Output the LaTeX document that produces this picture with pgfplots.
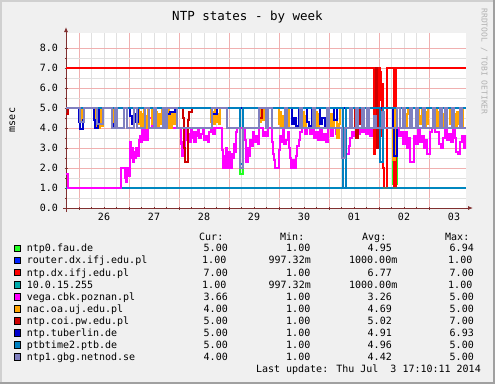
\documentclass[border=0pt]{standalone}
\usepackage{fontspec}
\setmainfont{DejaVu Sans Mono}
\usepackage{pgfplots}
\pgfplotsset{compat=1.18}
\usetikzlibrary{arrows.meta}
\definecolor{bgc}{HTML}{F0F0F0}
\definecolor{edgelt}{HTML}{D0D0D0}
\definecolor{edgedk}{HTML}{A0A0A0}
\definecolor{ming}{HTML}{E0E0E0}
\definecolor{majg}{HTML}{F0B0B0}
\definecolor{axc}{HTML}{803030}
\definecolor{cA}{HTML}{22FF22}
\definecolor{cB}{HTML}{0022FF}
\definecolor{cC}{HTML}{FF0000}
\definecolor{cD}{HTML}{00AAAA}
\definecolor{cE}{HTML}{FF00FF}
\definecolor{cF}{HTML}{FFA500}
\definecolor{cG}{HTML}{CC0000}
\definecolor{cH}{HTML}{0000CC}
\definecolor{cI}{HTML}{0080C0}
\definecolor{cJ}{HTML}{8080C0}
\begin{document}
\begin{tikzpicture}
\begin{scope}[x=1pt,y=-1pt]
\path[use as bounding box] (0,0) rectangle (495,384);
\fill[bgc] (0,0) rectangle (495,384);
\fill[edgelt] (0,0) rectangle (495,1.5);
\fill[edgelt] (0,0) rectangle (1.5,384);
\fill[edgedk] (492.5,0) rectangle (495,384);
\fill[edgedk] (0,381.5) rectangle (495,384);
\end{scope}
\begin{axis}[
  at={(66pt,-208pt)}, anchor=south west,
  scale only axis, width=400pt, height=175pt,
  xmin=-0.26, xmax=7.74, ymin=0, ymax=8.75,
  axis background/.style={fill=white},
  axis x line=bottom, axis y line=left,
  x axis line style={draw=axc, line width=0.8pt, -{Latex[length=5pt,width=4pt]}, shorten >=-7pt, shorten <=-3pt},
  y axis line style={draw=axc, line width=0.8pt, -{Latex[length=5pt,width=4pt]}, shorten >=-6pt, shorten <=-4pt},
  xtick={0,1,2,3,4,5,6,7}, xticklabels={},
  minor x tick num=3,
  ytick={0,1,2,3,4,5,6,7,8}, minor y tick num=1,
  grid=both,
  major grid style={draw=majg, line width=0.6pt},
  minor grid style={draw=ming, line width=0.6pt},
  tick style={draw=axc, line width=0.6pt},
  major tick length=3pt, minor tick length=2pt, tick align=center,
  /pgf/number format/assume math mode=true,
  yticklabel style={font=\fontsize{10pt}{12pt}\selectfont, /pgf/number format/fixed, /pgf/number format/fixed zerofill, /pgf/number format/precision=1, xshift=-3pt},
  extra x ticks={0.5,1.5,2.5,3.5,4.5,5.5,6.5,7.5},
  extra x tick labels={26,27,28,29,30,01,02,03},
  extra x tick style={grid=none, major tick length=0pt, xticklabel style={font=\fontsize{10pt}{12pt}\selectfont, anchor=base, yshift=-12pt}},
  every axis plot/.append style={const plot, line width=2pt},
  clip=true,
]
% ntp0.fau.de
\addplot[cA] coordinates {(-0.26,5)(3.22,1.7)(3.28,5)(6.28,1.2)(6.36,5)(7.74,5)};
% router.dx.ifj.edu.pl
\addplot[cB] coordinates {(-0.26,1)(7.74,1)};
% ntp.dx.ifj.edu.pl
\addplot[cC] coordinates {(-0.26,7)(5.90,2.7)(5.92,7)(5.93,5.6)(5.94,6.8)(5.95,5.0)(5.96,7)(5.97,5.8)(5.98,4.5)(5.99,6.6)(6.00,5.4)(6.01,7)(6.02,5.5)(6.03,6.8)(6.04,6.0)(6.05,3.6)(6.06,4.8)(6.07,6.2)(6.08,2.0)(6.10,1.0)(6.15,7)(6.29,1.0)(6.34,7)(7.74,7)};
% 10.0.15.255
\addplot[cD, opacity=0.75] coordinates {(-0.26,1)(7.74,1)};
% vega.cbk.poznan.pl
\addplot[cE] coordinates {(-0.26,1.7)(-0.22,1.0)(0.81,1.0)(0.83,2.0)(0.90,2.0)(0.91,1.5)(0.93,1.3)(0.95,1.6)(0.96,2.0)(0.98,1.9)(1.00,1.6)(1.01,3.3)(1.03,3.0)(1.05,2.5)(1.06,3.0)(1.08,2.3)(1.10,2.8)(1.12,2.5)(1.14,3.0)(1.16,2.6)(1.19,3.4)(1.22,3.6)(1.24,3.3)(1.26,3.9)(1.28,3.5)(1.30,3.4)(1.32,3.9)(1.34,3.4)(1.38,4.0)(1.40,4.5)(1.46,4.0)(2.02,4.0)(2.03,3.2)(2.05,2.6)(2.07,3.3)(2.09,2.7)(2.11,3.6)(2.13,3.9)(2.15,3.4)(2.18,3.3)(2.20,3.7)(2.22,3.3)(2.24,4.0)(2.26,3.5)(2.28,3.8)(2.30,3.3)(2.33,3.8)(2.36,3.6)(2.38,4.0)(2.40,3.5)(2.44,3.7)(2.48,4.0)(2.50,3.4)(2.54,3.6)(2.58,3.3)(2.60,3.8)(2.64,4.0)(2.68,3.7)(2.72,4.0)(2.86,2.9)(2.88,2.0)(2.90,2.6)(2.92,2.0)(2.94,3.0)(2.96,2.6)(2.98,2.0)(3.00,2.8)(3.02,2.3)(3.04,2.0)(3.06,2.7)(3.08,2.5)(3.10,3.2)(3.12,2.8)(3.14,3.8)(3.16,4.0)(3.31,3.4)(3.33,2.3)(3.38,3.0)(3.40,2.6)(3.42,3.4)(3.46,3.1)(3.48,3.8)(3.50,3.3)(3.54,3.6)(3.58,3.2)(3.60,4.0)(3.68,3.6)(3.70,3.8)(3.74,3.6)(3.78,4.0)(3.86,3.3)(3.88,2.7)(3.90,2.4)(3.92,2.0)(4.00,2.9)(4.02,3.6)(4.04,3.3)(4.08,4.0)(4.10,3.2)(4.14,3.4)(4.18,3.8)(4.20,3.0)(4.22,2.5)(4.24,2.0)(4.28,2.4)(4.30,2.0)(4.34,2.6)(4.36,3.1)(4.40,3.4)(4.42,3.8)(4.46,4.0)(4.52,3.7)(4.56,4.0)(4.62,3.7)(4.66,4.0)(4.70,3.5)(4.74,3.8)(4.78,3.4)(4.82,3.9)(4.86,3.4)(4.90,3.7)(4.94,3.3)(4.98,4.0)(5.04,3.6)(5.08,4.0)(5.14,3.7)(5.20,4.0)(5.32,3.0)(5.34,2.7)(5.40,3.1)(5.42,3.5)(5.46,3.8)(5.50,3.6)(5.54,4.0)(5.58,3.7)(5.62,4.0)(5.66,3.8)(5.70,4.0)(5.74,3.7)(5.78,3.9)(5.82,3.6)(5.86,4.0)(6.40,3.6)(6.44,3.8)(6.48,3.2)(6.52,3.8)(6.56,3.0)(6.60,3.5)(6.62,2.3)(6.70,3.6)(6.74,3.2)(6.78,4.0)(6.82,3.3)(6.86,3.6)(6.90,3.0)(6.94,3.4)(6.96,2.7)(7.02,3.8)(7.06,4.0)(7.12,3.8)(7.20,3.2)(7.24,3.0)(7.28,3.5)(7.32,4.0)(7.36,3.4)(7.40,3.7)(7.44,3.3)(7.48,4.0)(7.52,3.5)(7.54,2.8)(7.58,2.7)(7.62,3.3)(7.66,3.6)(7.70,3.0)(7.74,3.66)};
% nac.oa.uj.edu.pl
\addplot[cF] coordinates {(-0.26,5)(0.00,4.3)(0.02,5)(0.04,4.4)(0.06,5)(0.32,4.0)(0.34,5)(0.36,4.2)(0.38,4.8)(0.40,4.0)(0.42,5)(0.44,4.1)(0.48,5)(0.66,4.0)(0.70,5)(1.20,4.2)(1.22,4.8)(1.24,4.0)(1.26,4.7)(1.28,4.1)(1.30,4.9)(1.32,4.0)(1.34,4.6)(1.36,4.0)(1.38,5)(1.46,4.2)(1.48,4.9)(1.50,4.1)(1.54,4.8)(1.56,4.0)(1.60,4.7)(1.62,4.2)(1.66,5)(1.76,4.1)(1.78,4.9)(1.80,4.0)(1.82,4.8)(1.84,4.0)(1.86,4.7)(1.88,4.2)(1.92,5)(2.64,4.3)(2.66,4.8)(2.68,4.2)(2.72,4.9)(2.74,4.3)(2.78,4.7)(2.80,4.2)(2.82,5)(3.60,4.3)(3.64,5)(3.66,4.4)(3.70,5)(4.00,4.2)(4.02,4.8)(4.04,4.0)(4.08,4.6)(4.10,4.0)(4.14,4.7)(4.16,4.1)(4.20,5)(4.40,4.1)(4.42,4.7)(4.44,4.0)(4.48,4.8)(4.50,4.1)(4.54,4.6)(4.56,5)(4.72,4.0)(4.74,4.8)(4.76,4.1)(4.80,4.7)(4.82,5)(4.96,4.1)(4.98,4.8)(5.00,4.0)(5.04,4.7)(5.06,4.1)(5.10,5)(5.16,3.5)(5.20,4.2)(5.22,5)(6.28,2.4)(6.32,5)(6.48,4.2)(6.50,4.8)(6.52,4.0)(6.56,4.7)(6.58,5)(6.76,4.1)(6.78,4.9)(6.80,4.2)(6.84,4.6)(6.86,5)(6.92,4.1)(6.94,4.8)(6.96,4.2)(6.98,5)(7.16,4.0)(7.18,4.8)(7.20,4.1)(7.24,4.6)(7.26,4.0)(7.30,4.7)(7.32,5)(7.42,4.2)(7.44,4.8)(7.46,4.0)(7.50,4.7)(7.52,4.1)(7.56,4.8)(7.58,4.2)(7.62,5)(7.68,4.0)(7.74,4.0)};
% ntp.coi.pw.edu.pl
\addplot[cG] coordinates {(-0.26,4.7)(-0.22,5)(2.08,4.5)(2.10,3.0)(2.12,2.3)(2.18,4.4)(2.20,4.8)(2.26,5)(3.60,4.5)(3.66,5)(5.52,4.0)(5.54,3.5)(5.58,4.2)(5.62,5)(5.94,7)(5.96,3.0)(6.00,5)(7.74,5)};
% ntp.tuberlin.de
\addplot[cH] coordinates {(-0.26,5)(0.00,4.3)(0.02,3.95)(0.08,4.4)(0.10,5)(0.30,4.4)(0.32,4.0)(0.38,4.2)(0.40,5)(0.66,4.2)(0.68,4.0)(0.72,5)(1.02,4.6)(1.06,4.2)(1.10,4.7)(1.14,4.3)(1.18,5)(1.76,4.7)(1.82,4.8)(1.92,5)(2.66,4.7)(2.76,5)(4.26,4.2)(4.30,4.5)(4.34,4.1)(4.40,5)(4.56,4.3)(4.60,4.1)(4.66,5)(4.82,4.2)(4.86,4.5)(4.92,4.1)(4.96,5)(5.10,4.4)(5.16,5)(6.28,4.0)(6.30,2.6)(6.36,5)(7.74,5)};
% ptbtime2.ptb.de
\addplot[cI] coordinates {(-0.26,5)(3.22,2.2)(3.28,5)(5.27,1.0)(5.33,5)(6.02,2.3)(6.08,5)(7.74,5)};
% ntp1.gbg.netnod.se
\addplot[cJ] coordinates {(-0.26,5)(0.02,4.3)(0.10,5)(0.36,4.2)(0.48,5)(0.66,4)(0.72,5)(0.76,4)(0.90,5)(0.96,4)(1.10,5)(1.16,4)(1.32,5)(1.40,4)(1.50,5)(1.54,4)(1.68,5)(1.72,4)(1.76,5)(1.96,4)(2.66,5)(2.96,4)(3.22,2.0)(3.28,4)(3.60,5)(3.74,4)(3.78,5)(3.86,4)(4.12,5)(4.16,4)(4.42,5)(4.46,4)(4.68,5)(4.72,4)(4.96,5)(5.00,4)(5.26,2.5)(5.32,4)(5.42,5)(5.46,4)(5.54,5)(5.58,4)(5.66,5)(5.70,4)(5.76,5)(5.80,4)(5.90,4.6)(5.94,4)(6.06,4.8)(6.10,4)(6.36,5)(6.42,4)(6.48,5)(6.52,4)(6.62,5)(6.66,4)(6.74,5)(6.78,4)(6.88,5)(6.92,4)(7.08,5)(7.12,4)(7.22,5)(7.26,4)(7.32,5)(7.36,4)(7.46,5)(7.50,4)(7.62,5)(7.66,4)(7.74,4)};
\end{axis}
\begin{scope}[x=1pt,y=-1pt, every node/.style={inner sep=0pt, font=\fontsize{10pt}{12pt}\selectfont}]
\node[anchor=base, font=\fontsize{12.5pt}{14pt}\selectfont] at (247.5,20.7) {NTP states - by week};
\node[anchor=base, rotate=90] at (15,120) {msec};
\node[anchor=base west, rotate=-90, text=black!30, font=\fontsize{8pt}{9pt}\selectfont] at (481.7,8.3) {RRDTOOL / TOBI OETIKER};
\node[anchor=base west] at (199,240.3) {Cur:};
\node[anchor=base west] at (280,240.3) {Min:};
\node[anchor=base west] at (362,240.3) {Avg:};
\node[anchor=base west] at (445,240.3) {Max:};
\foreach \c/\n/\cur/\mn/\av/\mx/\k in {
  cA/ntp0.fau.de/5.00/1.00/4.95/6.94/0,
  cB/router.dx.ifj.edu.pl/1.00/997.32m/1000.00m/1.00/1,
  cC/ntp.dx.ifj.edu.pl/7.00/1.00/6.77/7.00/2,
  cD/10.0.15.255/1.00/997.32m/1000.00m/1.00/3,
  cE/vega.cbk.poznan.pl/3.66/1.00/3.26/5.00/4,
  cF/nac.oa.uj.edu.pl/4.00/1.00/4.69/5.00/5,
  cG/ntp.coi.pw.edu.pl/5.00/1.00/5.02/7.00/6,
  cH/ntp.tuberlin.de/5.00/1.00/4.91/6.93/7,
  cI/ptbtime2.ptb.de/5.00/1.00/4.96/5.00/8,
  cJ/ntp1.gbg.netnod.se/4.00/1.00/4.42/5.00/9} {
  \pgfmathsetmacro{\yb}{251.9+12.05*\k}
  \pgfmathsetmacro{\yc}{\yb-3.6}
  \filldraw[fill=\c, draw=black, line width=0.7pt] (14.2,\yc-3.4) rectangle (20.8,\yc+3.4);
  \node[anchor=base west] at (26.7,\yb) {\n};
  \ifnum\k=1 \node[anchor=base east] at (226.5,\yb) {\cur};
    \node[anchor=base east] at (311,\yb) {\mn};
    \node[anchor=base east] at (397.5,\yb) {\av};
    \node[anchor=base east] at (472.5,\yb) {\mx};
  \else\ifnum\k=3 \node[anchor=base east] at (226.5,\yb) {\cur};
    \node[anchor=base east] at (311,\yb) {\mn};
    \node[anchor=base east] at (397.5,\yb) {\av};
    \node[anchor=base east] at (472.5,\yb) {\mx};
  \else \node[anchor=base east] at (228,\yb) {\cur};
    \node[anchor=base east] at (310.5,\yb) {\mn};
    \node[anchor=base east] at (392,\yb) {\av};
    \node[anchor=base east] at (474,\yb) {\mx};
  \fi\fi
}
\node[anchor=base east] at (481,372.4) {Last update: Thu Jul\ \ 3 17:10:11 2014};
\end{scope}
\end{tikzpicture}
\end{document}
